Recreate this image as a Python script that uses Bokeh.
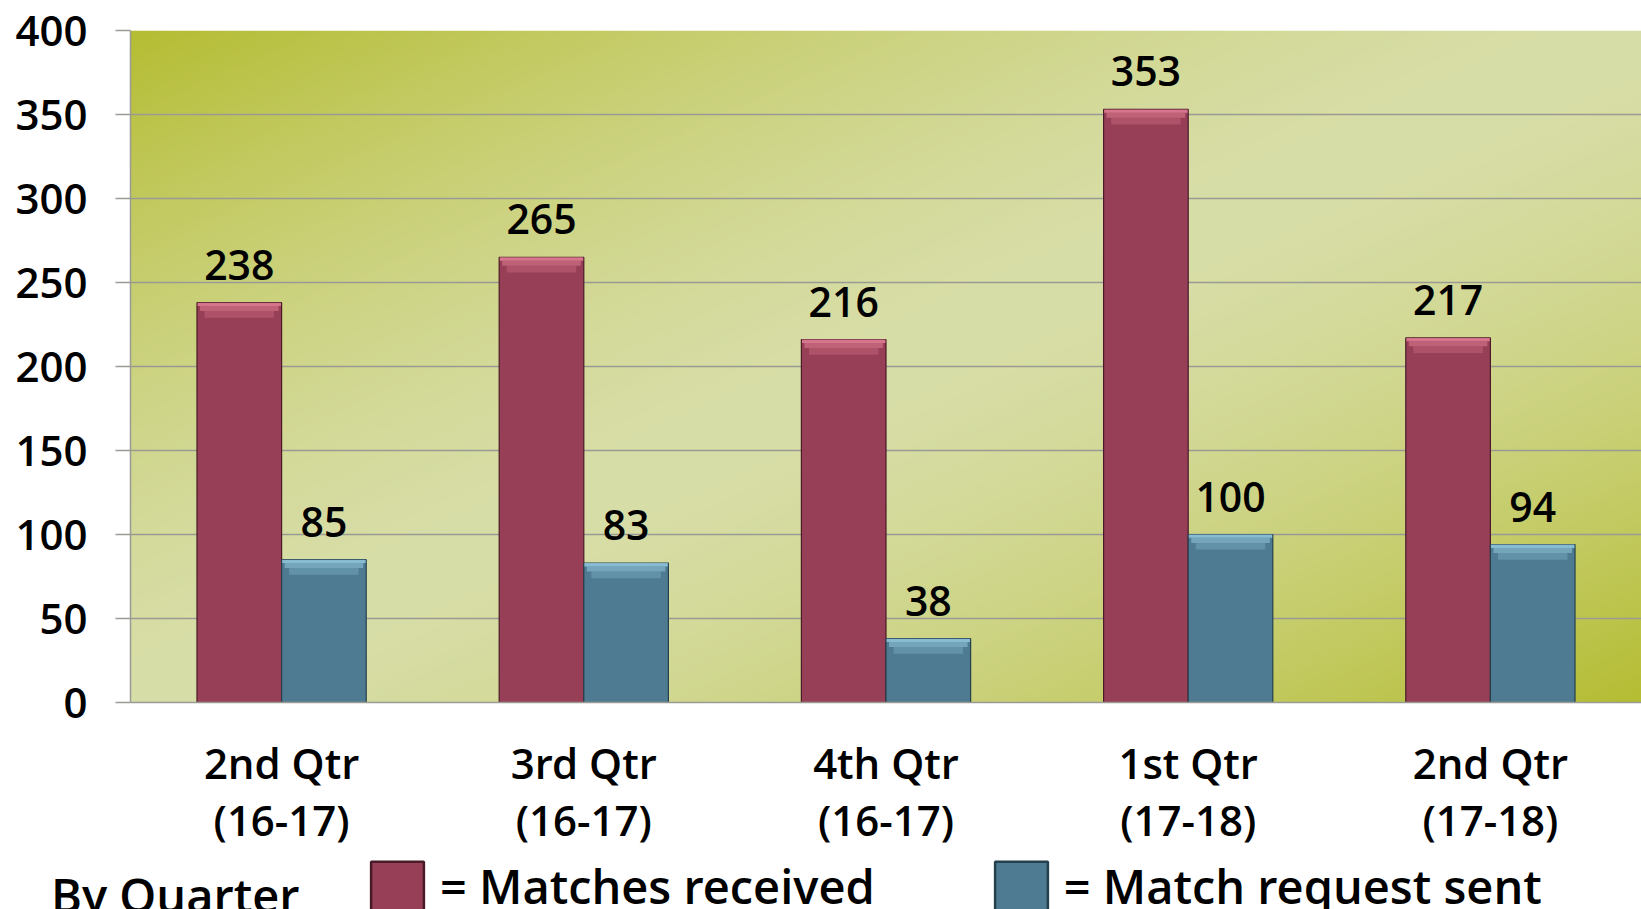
import numpy as np
from bokeh.plotting import figure
from bokeh.layouts import column
from bokeh.models import (ColumnDataSource, FactorRange, Legend, LegendItem,
                          FixedTicker, Range1d, LinearAxis)
from bokeh.transform import dodge
from bokeh.core.properties import value
from bokeh.embed import file_html
from bokeh.resources import INLINE

# ---- data ----
quarters = ["2nd Qtr\n(16-17)", "3rd Qtr\n(16-17)", "4th Qtr\n(16-17)",
            "1st Qtr\n(17-18)", "2nd Qtr\n(17-18)"]
matches_received = [238, 265, 216, 353, 217]
match_requests_sent = [85, 83, 38, 100, 94]
y_ticks = [0, 50, 100, 150, 200, 250, 300, 350, 400]
series_names = ["= Matches received", "= Match request sent"]
legend_title = "By Quarter"

FONT = "Open Sans SemiBold, Open Sans"
RED = "#973f56"
RED_HI = "#e07f95"
RED_EDGE = "#4a1a28"
BLUE = "#4e7b91"
BLUE_HI = "#93c8de"
BLUE_EDGE = "#25404d"

src = ColumnDataSource(dict(
    q=quarters,
    rec=matches_received,
    sent=match_requests_sent,
    rec_lbl=[str(v) for v in matches_received],
    sent_lbl=[str(v) for v in match_requests_sent],
))

W_TOTAL = 1641
MAIN_H = 860
LEG_H = 909 - MAIN_H

p = figure(x_range=FactorRange(*quarters, range_padding=0), y_range=(0, 400),
           width=W_TOTAL, height=MAIN_H, output_backend="svg", toolbar_location=None,
           min_border_left=130, min_border_right=0, min_border_top=30,
           min_border_bottom=MAIN_H - 30 - 672)
p.outline_line_color = None
p.background_fill_color = None
p.border_fill_color = "white"

# ---- diagonal gradient background (style only) ----
H, W = 180, 400
yy, xx = np.mgrid[0:H, 0:W]
t = (xx / (W - 1) + (1 - yy / (H - 1))) / 2.0
m = np.abs(2 * t - 1) ** 1.5
c_light = np.array([0xd8, 0xde, 0xa8])
c_dark = np.array([0xb5, 0xbd, 0x33])
rgb = c_light[None, None, :] * (1 - m[..., None]) + c_dark[None, None, :] * m[..., None]
img = np.empty((H, W), dtype=np.uint32)
view = img.view(dtype=np.uint8).reshape((H, W, 4))
view[..., 0] = rgb[..., 0].astype(np.uint8)
view[..., 1] = rgb[..., 1].astype(np.uint8)
view[..., 2] = rgb[..., 2].astype(np.uint8)
view[..., 3] = 255
p.image_rgba(image=[img], x=0, y=0, dw=len(quarters), dh=400, level="image")

# ---- bars ----
BW = 0.28
OFF = BW / 2
xr = dodge("q", -OFF, range=p.x_range)
xb = dodge("q", OFF, range=p.x_range)
r1 = p.vbar(x=xr, top="rec", width=BW, source=src,
            fill_color=RED, line_color=RED_EDGE, line_width=1.2)
r2 = p.vbar(x=xb, top="sent", width=BW, source=src,
            fill_color=BLUE, line_color=BLUE_EDGE, line_width=1.2)

# bevel highlight at bar tops (style): stacked fading strips from the same values
src_hi = ColumnDataSource(dict(
    q=quarters,
    rec=matches_received, sent=match_requests_sent,
    rec1=[v - 2 for v in matches_received], sent1=[v - 2 for v in match_requests_sent],
    rec2=[v - 5 for v in matches_received], sent2=[v - 5 for v in match_requests_sent],
    rec3=[v - 9 for v in matches_received], sent3=[v - 9 for v in match_requests_sent],
))
for top_r, bot_r, top_b, bot_b, wd, a in [("rec", "rec1", "sent", "sent1", BW - 0.004, 0.85),
                                          ("rec1", "rec2", "sent1", "sent2", BW - 0.02, 0.55),
                                          ("rec2", "rec3", "sent2", "sent3", BW - 0.05, 0.3)]:
    p.vbar(x=xr, top=top_r, bottom=bot_r, width=wd, source=src_hi,
           fill_color=RED_HI, fill_alpha=a, line_color=None)
    p.vbar(x=xb, top=top_b, bottom=bot_b, width=wd, source=src_hi,
           fill_color=BLUE_HI, fill_alpha=a, line_color=None)

# ---- value labels ----
p.text(x=xr, y="rec", text="rec_lbl", source=src,
       text_font=value(FONT), text_font_size="41px", text_align="center",
       text_baseline="alphabetic", y_offset=-38, text_color="black")
p.text(x=xb, y="sent", text="sent_lbl", source=src,
       text_font=value(FONT), text_font_size="41px", text_align="center",
       text_baseline="alphabetic", y_offset=-38, text_color="black")

# ---- axes & grid ----
GRID = "#9a9a94"
p.xgrid.grid_line_color = None
p.ygrid.grid_line_color = GRID
p.ygrid.grid_line_width = 1.5
p.ygrid.ticker = FixedTicker(ticks=y_ticks)
p.yaxis.ticker = FixedTicker(ticks=y_ticks)
p.yaxis.axis_line_color = GRID
p.yaxis.axis_line_width = 1.5
p.yaxis.major_tick_line_color = GRID
p.yaxis.major_tick_line_width = 1.5
p.yaxis.major_tick_out = 15
p.yaxis.major_tick_in = 0
p.yaxis.minor_tick_line_color = None
p.yaxis.major_label_text_font = FONT
p.yaxis.major_label_text_font_size = "42px"
p.yaxis.major_label_text_color = "black"
p.yaxis.major_label_standoff = 28

p.xaxis.axis_line_color = GRID
p.xaxis.axis_line_width = 1.5
p.xaxis.major_tick_line_color = None
p.xaxis.minor_tick_line_color = None
p.xaxis.major_label_text_font = FONT
p.xaxis.major_label_text_font_size = "42px"
p.xaxis.major_label_text_color = "black"
p.xaxis.major_label_text_line_height = 1.0
p.xaxis.major_label_standoff = 25

# ---- legend strip below the chart ----
lg = figure(width=W_TOTAL, height=LEG_H, output_backend="svg", toolbar_location=None,
            x_range=Range1d(0, 1), y_range=Range1d(0, LEG_H),
            x_axis_type=None, y_axis_type=None, min_border=0)
lg.outline_line_color = None
lg.grid.visible = False
# caption "By Quarter" as the single tick label of a bare left axis
cap_y = 19
cap_axis = LinearAxis(ticker=FixedTicker(ticks=[cap_y]),
                      major_label_overrides={cap_y: legend_title},
                      axis_line_color=None, major_tick_line_color=None,
                      minor_tick_line_color=None, major_tick_out=0, major_tick_in=0,
                      major_label_standoff=-169,
                      major_label_text_font=FONT, major_label_text_font_size="47px",
                      major_label_text_color="black")
lg.add_layout(cap_axis, "left")
lr1 = lg.vbar(x=[0], top=[0], width=0, fill_color=RED, line_color=RED_EDGE, line_width=2.5)
lr2 = lg.vbar(x=[0], top=[0], width=0, fill_color=BLUE, line_color=BLUE_EDGE, line_width=2.5)
legend = Legend(items=[LegendItem(label=series_names[0], renderers=[lr1]),
                       LegendItem(label=series_names[1], renderers=[lr2])],
                orientation="horizontal", location=(234, -9),
                glyph_width=66, glyph_height=62, label_standoff=10, spacing=113,
                padding=0, margin=0, border_line_color=None, background_fill_alpha=0,
                label_text_font=FONT, label_text_font_size="47px",
                label_text_color="black", label_height=62)
lg.add_layout(legend, "center")

layout = column(p, lg, spacing=0)
open("out.html", "w").write(file_html(layout, INLINE))
